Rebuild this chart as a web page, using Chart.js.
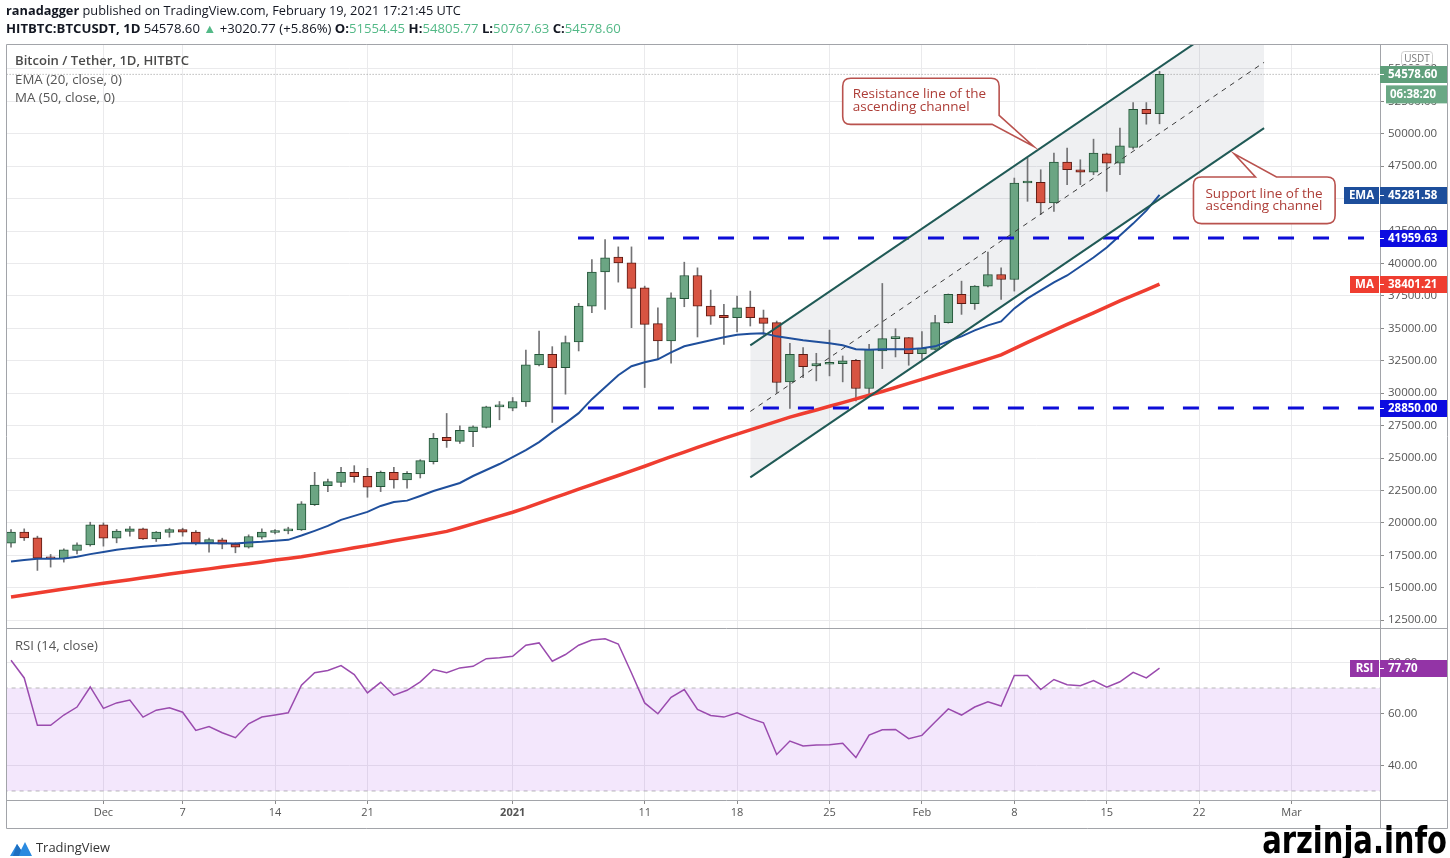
<!DOCTYPE html>
<html>
<head>
<meta charset="utf-8">
<title>BTCUSDT 1D</title>
<script src="https://cdn.jsdelivr.net/npm/chart.js@4.4.1/dist/chart.umd.min.js"></script>
<style>
  html, body { margin: 0; padding: 0; background: #fff; }
  #wrap { position: relative; width: 1450px; height: 858px; overflow: hidden;
          font-family: "Open Sans", "Noto Sans", sans-serif; color: #131722; }
  #c { position: absolute; left: 0; top: 0; }
  .txt { position: absolute; white-space: nowrap; transform-origin: left center; line-height: 15px; }
  .hd { font-size: 12.5px; }
  .up { color: #53b987; }
  .leg { font-size: 12.5px; color: #555; }
  #wm { position: absolute; right: 3px; top: 821px; font: bold 38px/38px "Liberation Sans Narrow", "DejaVu Sans Condensed", "Liberation Sans", sans-serif;
        color: #000; white-space: nowrap; transform-origin: right center; }
  #tvlogo { position: absolute; left: 10px; top: 840px; }
</style>
</head>
<body>
<div id="wrap">
  <canvas id="c" width="1450" height="858"></canvas>

  <div class="txt hd" id="h1" style="left:6px;top:3px"><b>ranadagger</b> published on TradingView.com, February 19, 2021 17:21:45 UTC</div>
  <div class="txt hd" id="h2" style="left:6px;top:21px"><b>HITBTC:BTCUSDT, 1D</b> 54578.60 <span class="up">&#9650;</span> +3020.77 (+5.86%) <b>O:</b><span class="up">51554.45</span> <b>H:</b><span class="up">54805.77</span> <b>L:</b><span class="up">50767.63</span> <b>C:</b><span class="up">54578.60</span></div>

  <div class="txt leg" id="l1" style="left:15px;top:53px;font-weight:600;color:#4a4a4a">Bitcoin / Tether, 1D, HITBTC</div>
  <div class="txt leg" id="l2" style="left:15px;top:72px">EMA (20, close, 0)</div>
  <div class="txt leg" id="l3" style="left:15px;top:90px">MA (50, close, 0)</div>
  <div class="txt leg" id="l4" style="left:15px;top:638px">RSI (14, close)</div>

  <svg id="tvlogo" width="22" height="16" viewBox="0 0 22 16">
    <path d="M0 16 L7 4 L11 10 L15 2 L22 16 Z" fill="#2a8ae0"/>
    <path d="M7 4 L11 10 L9 16 L3 16 Z" fill="#1e6fc0"/>
  </svg>
  <div class="txt" id="tvtext" style="left:36px;top:840px;font-size:13px;color:#333">TradingView</div>
  <div id="wm">arzinja.info</div>
</div>

<script>
// values, one per daily candle (24 Nov 2020 .. 19 Feb 2021)
const opens = [18441, 19286, 18851, 17339, 17236, 17877, 18312, 19850, 18825, 19338,
  19543, 18774, 19261, 19491, 19286, 18466, 18697, 18364, 18133, 18902,
  19261, 19389, 19466, 21415, 22876, 23132, 23901, 23594, 22799, 23901,
  23312, 23773, 24721, 26592, 26285, 27028, 27361, 28950, 28848, 29334,
  32180, 33000, 31975, 33949, 36717, 39357, 40485, 40049, 38127, 35358,
  34026, 37281, 39075, 36717, 36000, 35820, 36640, 35820, 35436, 30873,
  33000, 32103, 32231, 32283, 32539, 30361, 33257, 34205, 34282, 33052,
  33385, 35435, 37614, 36896, 38255, 39154, 38769, 46202, 46253, 44664,
  47817, 47227, 47048, 48457, 47740, 48944, 51892, 51554.45];

const highs = [19491, 19543, 18979, 17569, 18005, 18466, 20055, 20004, 19491, 19722,
  19594, 19337, 19594, 19594, 19415, 18825, 18825, 18466, 19081, 19543,
  19491, 19671, 21644, 23901, 23388, 24286, 24414, 24209, 24000, 24286,
  23960, 24875, 26900, 28438, 27489, 27489, 29000, 29360, 29668, 33333,
  34794, 33589, 34409, 36922, 40305, 41843, 41279, 41279, 38255, 36589,
  37742, 40100, 39665, 37947, 36845, 37486, 37871, 36410, 35564, 33846,
  33513, 33077, 34871, 32872, 32616, 33769, 38460, 34974, 34300, 34743,
  35999, 37650, 38639, 38300, 40870, 39666, 46586, 48124, 47227, 48509,
  48893, 47996, 49585, 48509, 50431, 52404, 52404, 54805.77];

const lows = [18133, 18646, 16339, 16595, 16980, 17620, 18210, 18210, 18466, 18979,
  18722, 18569, 18902, 18979, 18312, 17749, 18005, 17697, 18056, 18774,
  19158, 19158, 19415, 21338, 22415, 22799, 23132, 21979, 22415, 22671,
  22671, 23465, 24542, 25823, 26131, 25875, 27310, 27951, 28643, 28976,
  32103, 27746, 29924, 33257, 36205, 36461, 38563, 35051, 30438, 32668,
  32309, 36666, 34334, 35307, 33770, 34718, 35179, 34539, 30053, 28823,
  31206, 30950, 31335, 30873, 29412, 29797, 31898, 32795, 32155, 32616,
  33333, 35400, 36076, 36460, 38200, 37231, 37872, 44792, 43767, 44023,
  46074, 46074, 46843, 45561, 46843, 48816, 50738, 50767.63];

const closes = [19286, 18851, 17287, 17236, 17928, 18312, 19850, 18825, 19363, 19543,
  18774, 19286, 19491, 19286, 18466, 18723, 18364, 18133, 18953, 19286,
  19389, 19543, 21465, 22927, 23184, 23901, 23568, 22748, 23901, 23312,
  23824, 24798, 26515, 26336, 27130, 27412, 28950, 28990, 29360, 32180,
  33000, 31975, 33898, 36717, 39331, 40434, 40049, 38076, 35307, 34026,
  37358, 39075, 36717, 35948, 35820, 36589, 35820, 35384, 30822, 33000,
  32052, 32283, 32260, 32488, 30361, 33385, 34205, 34282, 33052, 33462,
  35435, 37614, 36896, 38255, 39152, 38769, 46202, 46253, 44664, 47817,
  47227, 47048, 48509, 47740, 49072, 51892, 51554, 54578.60];

const ema20 = [17027, 17135, 17235, 17235, 17258, 17388, 17596, 17750, 17927, 18057,
  18157, 18234, 18311, 18442, 18442, 18442, 18442, 18411, 18488, 18542,
  18619, 18696, 19026, 19388, 19772, 20234, 20541, 20849, 21310, 21618,
  21718, 22079, 22464, 22771, 23079, 23617, 24079, 24540, 25078, 25617,
  26232, 27001, 27693, 28462, 29539, 30461, 31384, 32076, 32384, 32615,
  33153, 33614, 33845, 34076, 34306, 34499, 34576, 34614, 34383, 34230,
  34076, 33960, 33845, 33691, 33384, 33345, 33384, 33384, 33384, 33461,
  33614, 33999, 34383, 34845, 35229, 35537, 36537, 37305, 37920, 38536,
  39074, 39766, 40459, 41228, 42151, 43074, 44074, 45281.58];

const ma50 = [14297, 14451, 14597, 14751, 14904, 15051, 15204, 15343, 15489, 15627,
  15773, 15912, 16058, 16204, 16327, 16458, 16596, 16727, 16858, 16996,
  17135, 17265, 17396, 17558, 17734, 17904, 18080, 18250, 18434, 18619,
  18796, 18980, 19157, 19349, 19626, 19926, 20226, 20526, 20826, 21156,
  21526, 21887, 22241, 22602, 22956, 23310, 23656, 24017, 24371, 24740,
  25117, 25463, 25824, 26178, 26516, 26847, 27170, 27501, 27831, 28154,
  28431, 28708, 28993, 29277, 29562, 29839, 30131, 30438, 30754, 31069,
  31384, 31692, 31999, 32307, 32630, 32961, 33437, 33922, 34383, 34845,
  35306, 35744, 36190, 36652, 37113, 37536, 37959, 38401.21];

const rsi14 = [80.8, 73.9, 55.5, 55.5, 59.5, 62.6, 70.4, 62.1, 64.2, 65.3,
  58.7, 61.4, 62.3, 60.6, 53.5, 55.0, 52.6, 50.7, 56.1, 58.7,
  59.5, 60.4, 71.1, 75.9, 76.8, 78.7, 75.2, 68.1, 72.2, 67.2,
  69.1, 72.4, 77.2, 75.9, 77.8, 78.4, 81.4, 81.7, 82.3, 86.6,
  87.5, 80.4, 83.0, 86.6, 88.6, 89.1, 87.1, 75.8, 64.2, 60.0,
  66.4, 69.4, 61.7, 59.3, 58.7, 60.4, 58.2, 56.5, 44.2, 49.4,
  47.5, 47.9, 48.0, 48.5, 43.0, 51.7, 53.8, 53.9, 50.3, 51.6,
  56.8, 61.9, 59.5, 62.6, 64.6, 63.0, 74.9, 74.9, 69.4, 73.3,
  71.3, 70.9, 72.9, 70.3, 72.4, 76.1, 73.9, 77.70];

const priceTicks = [12500, 15000, 17500, 20000, 22500, 25000, 27500, 30000, 32500,
  35000, 37500, 40000, 42500, 45000, 47500, 50000, 52500, 55000];
const rsiTicks = [40, 60, 80];
const dateTickIdx = [7, 13, 20, 27, 38, 48, 55, 62, 69, 76, 83, 90, 97];
const dateTickLabels = ['Dec', '7', '14', '21', '2021', '11', '18', '25', 'Feb', '8', '15', '22', 'Mar'];

// hand drawn levels and channel (candle index / price)
const levelPrices = [41959.63, 28850.00];
const levelFrom = [42.95, 41.05];
const channelX = [56, 94.92];
const channelTop = [33691, 60606];
const channelMid = [28593, 55508];
const channelLow = [23517, 50432];
const rsiBands = [70, 30];

const UP = '#6ba583', DOWN = '#d75442', UP_BORDER = '#225437', DOWN_BORDER = '#5b1a13', WICK = '#737375';
const EMA_COLOR = '#1f4f9c', MA_COLOR = '#ef3d30', LEVEL_COLOR = '#0d0dd8', CHANNEL_COLOR = '#205a56';
const RSI_COLOR = '#9a4bae';
const FONT = "'Open Sans', 'Noto Sans', sans-serif";

const X_MIN = -0.38, X_MAX = 103.7;
const isUp = closes.map((c, i) => c >= opens[i]);
const series = arr => arr.map((v, i) => ({ x: i, y: v }));
const twoPoints = (xs, ys) => xs.map((x, i) => ({ x: x, y: ys[i] }));

Chart.defaults.font.family = FONT;

function fitWidth(id, target) {
  const el = document.getElementById(id);
  const w = el.getBoundingClientRect().width;
  if (w > 0) el.style.transform = 'scaleX(' + (target / w).toFixed(3) + ')';
}

function tag(ctx, py, bg, text, label, labelW) {
  ctx.fillStyle = bg;
  ctx.fillRect(1380, Math.round(py) - 8, 67, 17);
  ctx.strokeStyle = '#fff';
  ctx.beginPath();
  ctx.moveTo(1380, Math.round(py) + 0.5);
  ctx.lineTo(1384, Math.round(py) + 0.5);
  ctx.stroke();
  ctx.fillStyle = '#fff';
  ctx.font = 'bold 11.5px ' + FONT;
  ctx.textAlign = 'left';
  ctx.textBaseline = 'middle';
  ctx.fillText(text, 1388, Math.round(py) + 1);
  if (label) {
    ctx.fillStyle = bg;
    ctx.fillRect(1379 - labelW, Math.round(py) - 8, labelW, 17);
    ctx.fillStyle = '#fff';
    ctx.textAlign = 'center';
    ctx.fillText(label, 1379 - labelW / 2, Math.round(py) + 1);
  }
}

function callout(ctx, pts, lines, tx, ty) {
  ctx.beginPath();
  ctx.moveTo(pts[0][0], pts[0][1]);
  for (let i = 1; i < pts.length; i++) {
    const p = pts[i];
    if (p.length === 4) ctx.quadraticCurveTo(p[0], p[1], p[2], p[3]);
    else ctx.lineTo(p[0], p[1]);
  }
  ctx.closePath();
  ctx.fillStyle = '#fff';
  ctx.fill();
  ctx.strokeStyle = '#b9524e';
  ctx.lineWidth = 1.6;
  ctx.stroke();
  ctx.fillStyle = '#ad3d37';
  ctx.font = '13.5px ' + FONT;
  ctx.textAlign = 'left';
  ctx.textBaseline = 'middle';
  lines.forEach((s, i) => ctx.fillText(s, tx, ty + i * 12.5));
}

const chrome = {
  id: 'chrome',
  afterDraw(chart) {
    const { ctx, chartArea: a } = chart;
    const x = chart.scales.x, y = chart.scales.y, yR = chart.scales.yR;
    const right = y.right, bottom = x.bottom;
    ctx.save();

    // callouts, anchored to chart coordinates
    const r = 8;
    let L = x.getPixelForValue(63.0), Rt = x.getPixelForValue(74.85);
    let T = y.getPixelForValue(54277), B = y.getPixelForValue(50723);
    let tipX = x.getPixelForValue(77.47), tipY = y.getPixelForValue(49017);
    callout(ctx, [
      [L + r, T], [Rt - r, T], [Rt, T, Rt, T + r], [Rt, B - 9],
      [tipX, tipY], [Rt - 7, B], [L + r, B], [L, B, L, B - r],
      [L, T + r], [L, T, L + r, T]
    ], ['Resistance line of the', 'ascending channel'], L + 10, T + 16);

    L = x.getPixelForValue(89.57); Rt = x.getPixelForValue(100.3);
    T = y.getPixelForValue(46664); B = y.getPixelForValue(43073);
    tipX = x.getPixelForValue(92.65); tipY = y.getPixelForValue(48456);
    callout(ctx, [
      [L + r, T], [L + 62, T], [tipX, tipY], [L + 83, T], [Rt - r, T],
      [Rt, T, Rt, T + r], [Rt, B - r], [Rt, B, Rt - r, B], [L + r, B],
      [L, B, L, B - r], [L, T + r], [L, T, L + r, T]
    ], ['Support line of the', 'ascending channel'], L + 12, T + 17);

    // pane frame
    ctx.strokeStyle = '#a2a4a9';
    ctx.lineWidth = 1;
    ctx.beginPath();
    ctx.rect(a.left + 0.5, a.top + 0.5, right - a.left, bottom - a.top);
    ctx.moveTo(a.left, y.bottom + 0.5); ctx.lineTo(right, y.bottom + 0.5);
    ctx.moveTo(a.left, a.bottom + 0.5); ctx.lineTo(right, a.bottom + 0.5);
    ctx.moveTo(a.right + 0.5, a.top); ctx.lineTo(a.right + 0.5, bottom);
    ctx.stroke();

    // USDT unit box
    ctx.strokeStyle = '#cfcfcf';
    ctx.beginPath();
    ctx.roundRect(1401.5, 51.5, 31, 14, 3);
    ctx.stroke();
    ctx.fillStyle = '#777';
    ctx.font = '10px ' + FONT;
    ctx.textAlign = 'center';
    ctx.textBaseline = 'middle';
    ctx.fillText('USDT', 1417, 59);

    // price tags on the axes
    const last = closes.length - 1;
    tag(ctx, y.getPixelForValue(closes[last]), '#5f9f7b', closes[last].toFixed(2));
    ctx.fillStyle = '#6aa885';
    ctx.fillRect(1386, y.getPixelForValue(closes[last]) + 11, 61, 18);
    ctx.fillStyle = '#fff';
    ctx.font = 'bold 11.5px ' + FONT;
    ctx.textAlign = 'left';
    ctx.fillText('06:38:20', 1390, y.getPixelForValue(closes[last]) + 20.5);
    tag(ctx, y.getPixelForValue(ema20[last]), '#1d4e9b', ema20[last].toFixed(2), 'EMA', 35);
    levelPrices.forEach(v => tag(ctx, y.getPixelForValue(v), '#0c0ce0', v.toFixed(2)));
    tag(ctx, y.getPixelForValue(ma50[last]), '#ef3d30', ma50[last].toFixed(2), 'MA', 29);
    tag(ctx, yR.getPixelForValue(rsi14[last]), '#9334a6', rsi14[last].toFixed(2), 'RSI', 29);
    ctx.restore();
  }
};

const line = (data, color, width, extra) => Object.assign({
  type: 'line', data: data, borderColor: color, borderWidth: width,
  pointRadius: 0, tension: 0, fill: false, yAxisID: 'y'
}, extra || {});

const datasets = [
  // 0 channel fill (under the candles)
  line(twoPoints(channelX, channelTop), 'rgba(0,0,0,0)', 0,
    { fill: { target: 2 }, backgroundColor: 'rgba(120,128,148,0.12)', order: 9 }),
  // 1..3 channel border lines and median
  line(twoPoints(channelX, channelTop), CHANNEL_COLOR, 2, { order: 1 }),
  line(twoPoints(channelX, channelLow), CHANNEL_COLOR, 2, { order: 1 }),
  line(twoPoints(channelX, channelMid), '#3a3a3a', 1, { borderDash: [5, 5], order: 1 }),
  // 4, 5 horizontal levels
  line(twoPoints([levelFrom[0], X_MAX + 2], [levelPrices[0], levelPrices[0]]), LEVEL_COLOR, 3, { borderDash: [16, 19], order: 2 }),
  line(twoPoints([levelFrom[1], X_MAX + 2], [levelPrices[1], levelPrices[1]]), LEVEL_COLOR, 3, { borderDash: [16, 19], order: 2 }),
  // 6 last price line
  line(twoPoints([X_MIN - 2, X_MAX + 2], [closes[closes.length - 1], closes[closes.length - 1]]), '#9a9a9a', 1, { borderDash: [1, 2], order: 8 }),
  // 7 wicks, 8 bodies
  {
    type: 'bar', yAxisID: 'y', order: 6,
    data: lows.map((l, i) => ({ x: i, y: [l, highs[i]] })),
    backgroundColor: WICK, barThickness: 1, borderWidth: 0, grouped: false
  },
  {
    type: 'bar', yAxisID: 'y', order: 5,
    data: opens.map((o, i) => ({ x: i, y: [o, closes[i]] })),
    backgroundColor: isUp.map(u => u ? UP : DOWN),
    borderColor: isUp.map(u => u ? UP_BORDER : DOWN_BORDER),
    borderWidth: 1, borderSkipped: false, barThickness: 9, minBarLength: 2, grouped: false
  },
  // 9, 10 moving averages
  line(series(ma50), MA_COLOR, 3.5, { order: 3 }),
  line(series(ema20), EMA_COLOR, 2, { order: 3 }),
  // 11, 12 RSI band
  line(twoPoints([X_MIN - 2, X_MAX + 2], [rsiBands[0], rsiBands[0]]), '#b8b8b8', 1,
    { yAxisID: 'yR', borderDash: [4, 4], fill: { target: 12 }, backgroundColor: 'rgba(150,40,230,0.11)', order: 10 }),
  line(twoPoints([X_MIN - 2, X_MAX + 2], [rsiBands[1], rsiBands[1]]), '#b8b8b8', 1,
    { yAxisID: 'yR', borderDash: [4, 4], order: 10 }),
  // 13 RSI
  line(series(rsi14), RSI_COLOR, 1.5, { yAxisID: 'yR', order: 0 })
];

const gridColor = '#eaeaec';

new Chart(document.getElementById('c'), {
  type: 'bar',
  data: { datasets: datasets },
  options: {
    responsive: false,
    animation: false,
    events: [],
    layout: { padding: { left: 6, right: 3, top: 44, bottom: 30 } },
    plugins: { legend: { display: false }, tooltip: { enabled: false } },
    scales: {
      x: {
        type: 'linear', position: 'bottom', min: X_MIN, max: X_MAX, offset: false,
        grid: { color: gridColor, offset: false, drawTicks: true, tickLength: 4, tickColor: '#8a8a8a' },
        border: { display: false },
        ticks: {
          autoSkip: false, maxRotation: 0, padding: 2, color: '#555',
          font: ctx => ({ size: 11, weight: ctx.tick && ctx.tick.value === 38 ? 'bold' : 'normal' }),
          callback: v => dateTickLabels[dateTickIdx.indexOf(v)]
        },
        afterBuildTicks: s => { s.ticks = dateTickIdx.map(v => ({ value: v })); },
        afterFit: s => { s.height = 28; }
      },
      y: {
        type: 'linear', position: 'right', stack: 'panes', stackWeight: 584, weight: 1,
        min: 11900, max: 56920,
        grid: { color: gridColor, tickLength: 4, tickColor: '#8a8a8a' },
        border: { display: false },
        ticks: { color: '#555', padding: 4, font: { size: 11.5 }, callback: v => v.toFixed(2) },
        afterBuildTicks: s => { s.ticks = priceTicks.map(v => ({ value: v })); },
        afterFit: s => { s.width = 67; }
      },
      yR: {
        type: 'linear', position: 'right', stack: 'panes', stackWeight: 172, weight: 2,
        min: 26.5, max: 93.3,
        grid: { color: gridColor, tickLength: 4, tickColor: '#8a8a8a' },
        border: { display: false },
        ticks: { color: '#555', padding: 4, font: { size: 11.5 }, callback: v => v.toFixed(2) },
        afterBuildTicks: s => { s.ticks = rsiTicks.map(v => ({ value: v })); },
        afterFit: s => { s.width = 67; }
      }
    }
  },
  plugins: [chrome]
});

fitWidth('h1', 455);
fitWidth('h2', 615);
fitWidth('l1', 174);
fitWidth('l2', 107);
fitWidth('l3', 100);
fitWidth('l4', 83);
fitWidth('tvtext', 74);
fitWidth('wm', 185);
</script>
</body>
</html>
